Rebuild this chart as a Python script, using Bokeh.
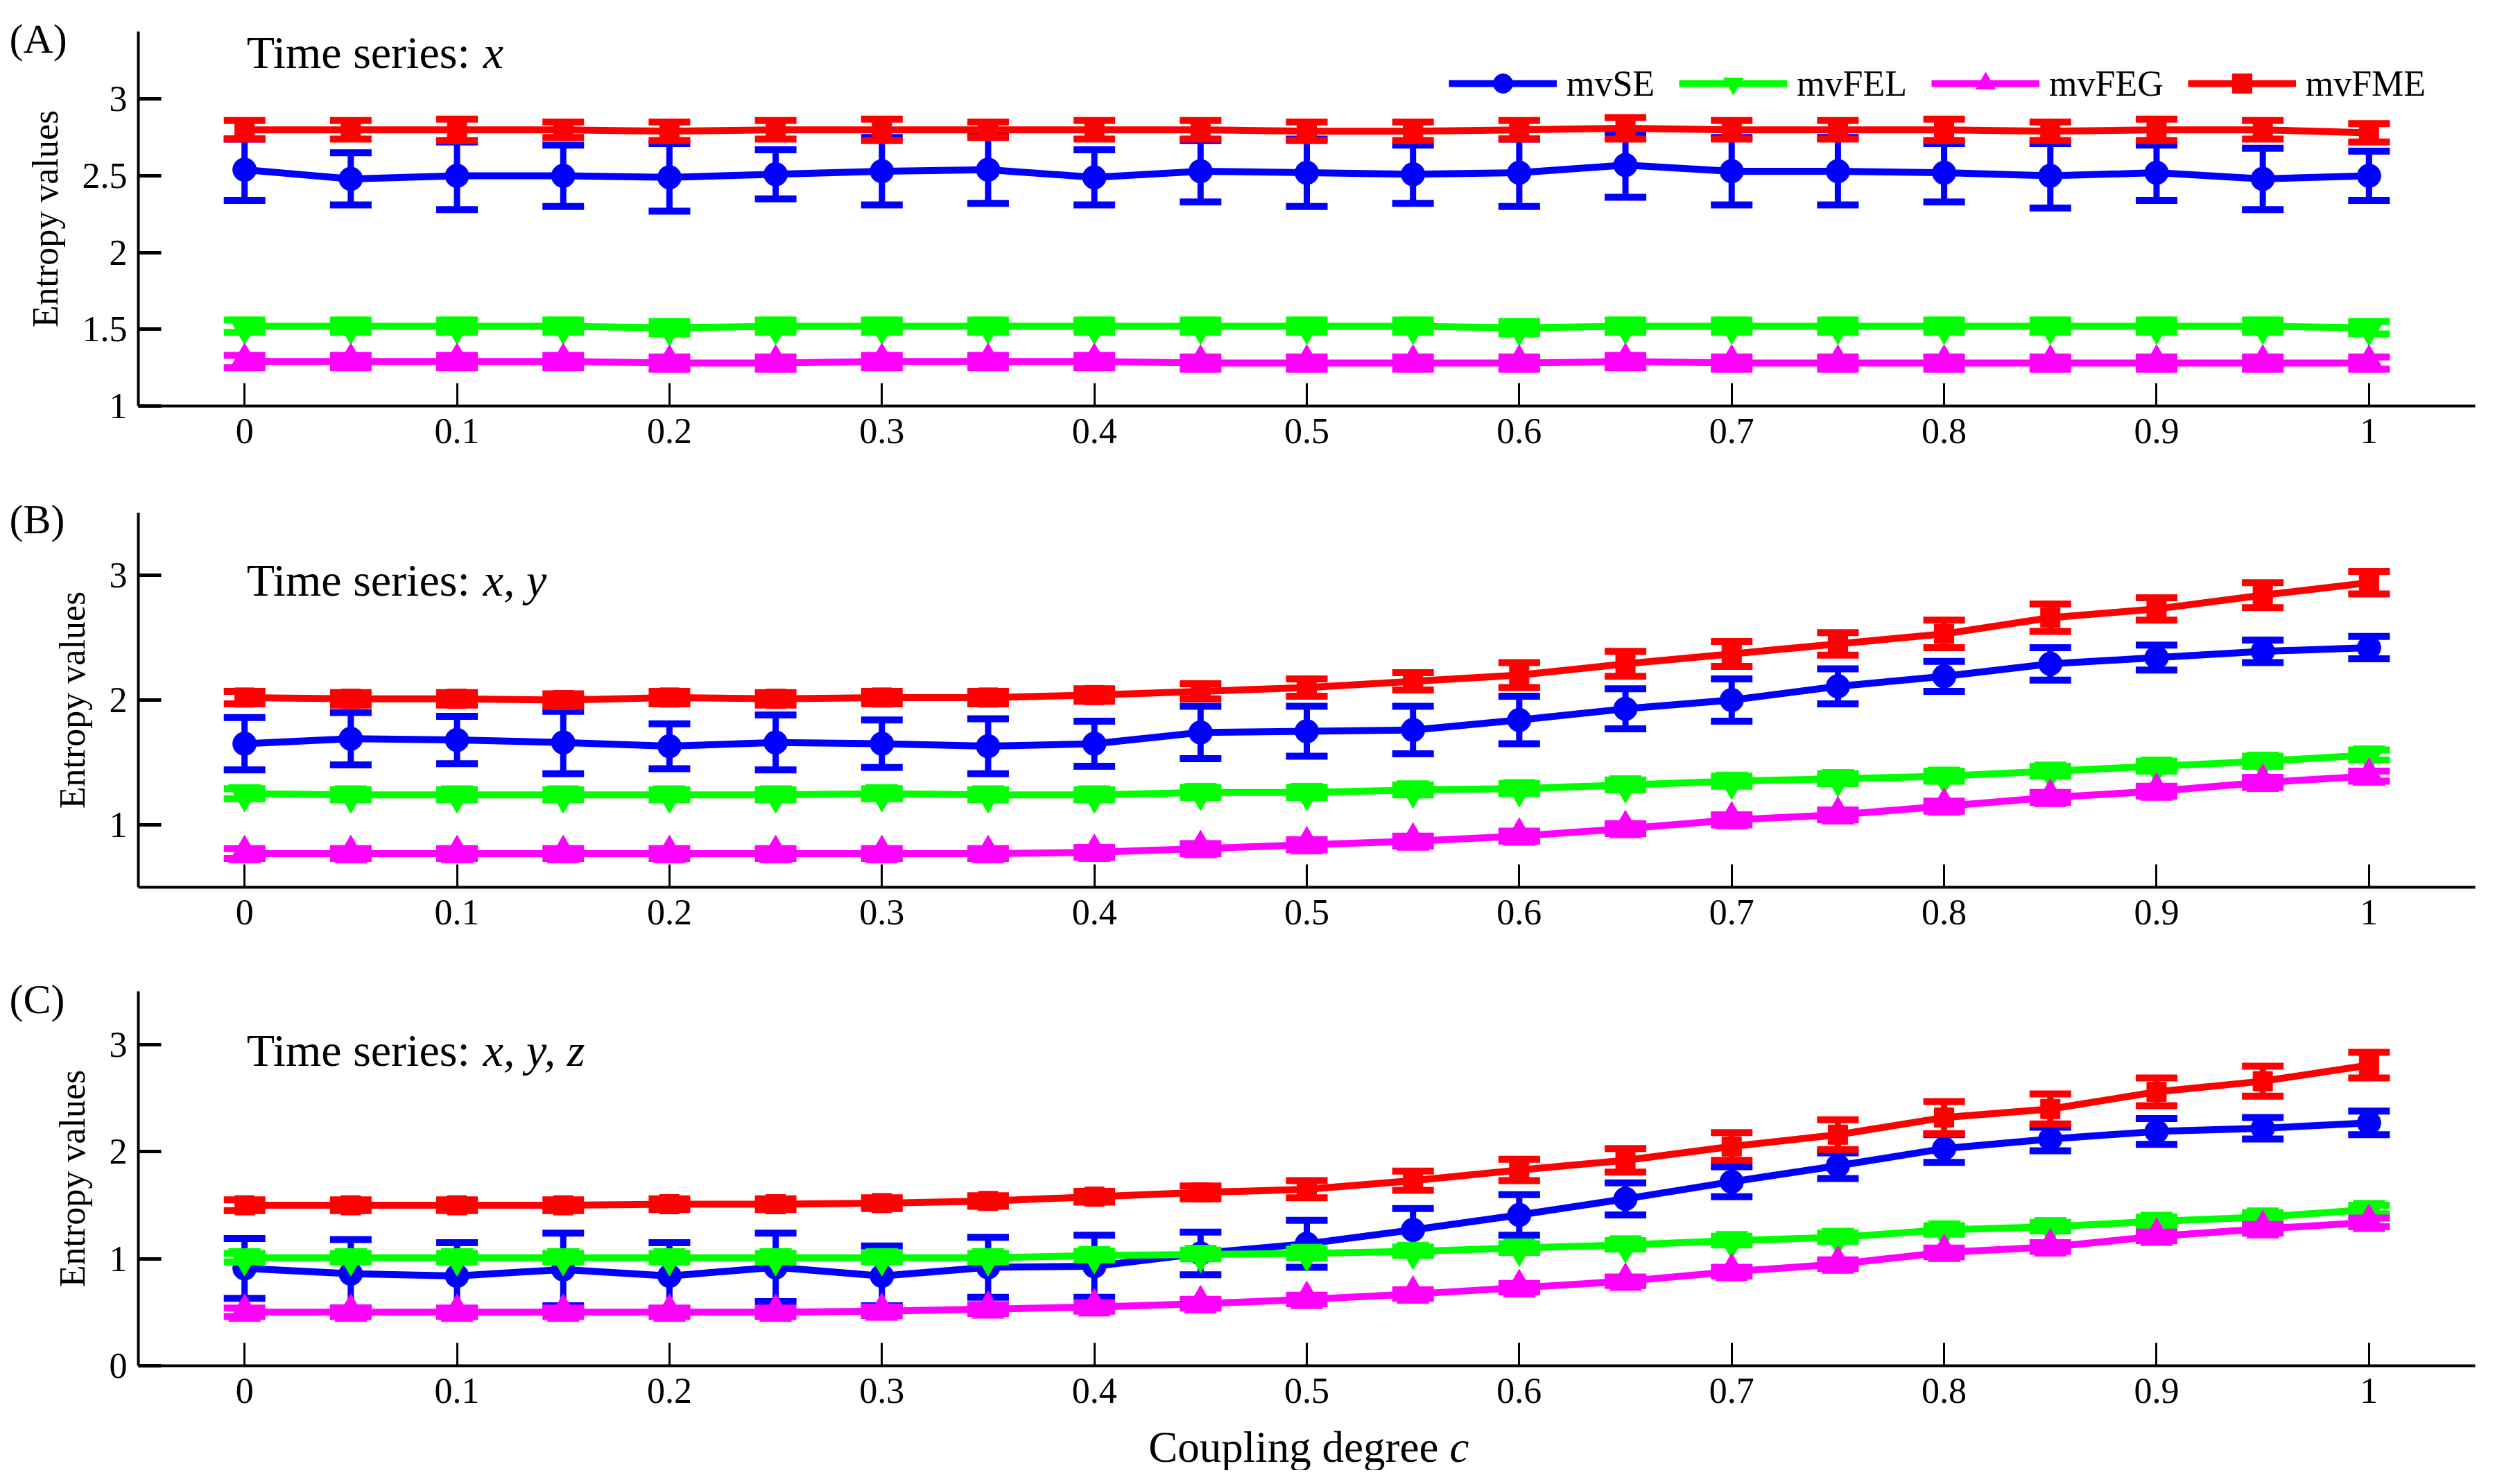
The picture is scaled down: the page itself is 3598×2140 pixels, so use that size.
import numpy as np
from bokeh.plotting import figure
from bokeh.layouts import column
from bokeh.models import (Range1d, FixedTicker, PrintfTickFormatter, Label,
                          Legend, LegendItem)
from bokeh.embed import file_html
from bokeh.resources import INLINE

# coupling degree c
coupling = [0, 0.05, 0.1, 0.15, 0.2, 0.25, 0.3, 0.35, 0.4, 0.45, 0.5,
            0.55, 0.6, 0.65, 0.7, 0.75, 0.8, 0.85, 0.9, 0.95, 1.0]
x_ticks = [0, 0.1, 0.2, 0.3, 0.4, 0.5, 0.6, 0.7, 0.8, 0.9, 1.0]

series_names = ["mvSE", "mvFEL", "mvFEG", "mvFME"]

# (A) time series x
a_se = [2.54, 2.48, 2.50, 2.50, 2.49, 2.51, 2.53, 2.54, 2.49, 2.53, 2.52,
        2.51, 2.52, 2.57, 2.53, 2.53, 2.52, 2.50, 2.52, 2.48, 2.50]
a_se_err = [0.20, 0.17, 0.22, 0.20, 0.22, 0.16, 0.22, 0.22, 0.18, 0.20, 0.22,
            0.19, 0.22, 0.21, 0.22, 0.22, 0.19, 0.21, 0.18, 0.20, 0.16]
a_fel = [1.52, 1.52, 1.52, 1.52, 1.51, 1.52, 1.52, 1.52, 1.52, 1.52, 1.52,
         1.52, 1.51, 1.52, 1.52, 1.52, 1.52, 1.52, 1.52, 1.52, 1.51]
a_fel_err = [0.04, 0.04, 0.04, 0.04, 0.04, 0.04, 0.04, 0.04, 0.04, 0.04, 0.04,
             0.04, 0.04, 0.04, 0.04, 0.04, 0.04, 0.04, 0.04, 0.04, 0.04]
a_feg = [1.29, 1.29, 1.29, 1.29, 1.28, 1.28, 1.29, 1.29, 1.29, 1.28, 1.28,
         1.28, 1.28, 1.29, 1.28, 1.28, 1.28, 1.28, 1.28, 1.28, 1.28]
a_feg_err = [0.04, 0.04, 0.04, 0.04, 0.04, 0.04, 0.04, 0.04, 0.04, 0.04, 0.04,
             0.04, 0.04, 0.04, 0.04, 0.04, 0.04, 0.04, 0.04, 0.04, 0.04]
a_fme = [2.80, 2.80, 2.80, 2.80, 2.79, 2.80, 2.80, 2.80, 2.80, 2.80, 2.79,
         2.79, 2.80, 2.81, 2.80, 2.80, 2.80, 2.79, 2.80, 2.80, 2.78]
a_fme_err = [0.06, 0.06, 0.07, 0.05, 0.06, 0.06, 0.07, 0.05, 0.06, 0.06, 0.06,
             0.06, 0.06, 0.07, 0.06, 0.06, 0.07, 0.06, 0.07, 0.06, 0.06]

# (B) time series x, y
b_se = [1.65, 1.69, 1.68, 1.66, 1.63, 1.66, 1.65, 1.63, 1.65, 1.74, 1.75,
        1.76, 1.84, 1.93, 2.00, 2.11, 2.19, 2.29, 2.34, 2.39, 2.42]
b_se_err = [0.21, 0.21, 0.19, 0.25, 0.18, 0.22, 0.19, 0.22, 0.18, 0.21, 0.20,
            0.19, 0.19, 0.16, 0.17, 0.14, 0.12, 0.13, 0.10, 0.09, 0.09]
b_fel = [1.25, 1.24, 1.24, 1.24, 1.24, 1.24, 1.25, 1.24, 1.24, 1.26, 1.26,
         1.28, 1.29, 1.32, 1.35, 1.37, 1.39, 1.43, 1.47, 1.51, 1.56]
b_fel_err = [0.04, 0.04, 0.04, 0.04, 0.04, 0.04, 0.04, 0.04, 0.04, 0.04, 0.04,
             0.04, 0.04, 0.04, 0.04, 0.04, 0.04, 0.04, 0.04, 0.04, 0.04]
b_feg = [0.77, 0.77, 0.77, 0.77, 0.77, 0.77, 0.77, 0.77, 0.78, 0.81, 0.84,
         0.87, 0.91, 0.97, 1.04, 1.08, 1.15, 1.22, 1.27, 1.34, 1.39]
b_feg_err = [0.04, 0.04, 0.04, 0.04, 0.04, 0.04, 0.04, 0.04, 0.04, 0.04, 0.04,
             0.04, 0.04, 0.04, 0.04, 0.04, 0.04, 0.04, 0.04, 0.04, 0.04]
b_fme = [2.02, 2.01, 2.01, 2.00, 2.02, 2.01, 2.02, 2.02, 2.04, 2.07, 2.10,
         2.15, 2.20, 2.29, 2.37, 2.45, 2.53, 2.66, 2.73, 2.84, 2.94]
b_fme_err = [0.05, 0.05, 0.05, 0.05, 0.05, 0.05, 0.05, 0.05, 0.05, 0.06, 0.07,
             0.07, 0.10, 0.10, 0.10, 0.09, 0.11, 0.11, 0.09, 0.10, 0.09]

# (C) time series x, y, z
c_se = [0.91, 0.86, 0.84, 0.90, 0.84, 0.92, 0.84, 0.92, 0.93, 1.05, 1.14,
        1.27, 1.41, 1.56, 1.72, 1.87, 2.03, 2.12, 2.19, 2.22, 2.27]
c_se_err = [0.28, 0.32, 0.31, 0.34, 0.31, 0.32, 0.28, 0.28, 0.29, 0.20, 0.22,
            0.20, 0.19, 0.15, 0.14, 0.12, 0.13, 0.11, 0.12, 0.10, 0.11]
c_fel = [1.01, 1.01, 1.01, 1.01, 1.01, 1.01, 1.01, 1.01, 1.03, 1.04, 1.05,
         1.07, 1.10, 1.13, 1.17, 1.20, 1.27, 1.30, 1.35, 1.39, 1.46]
c_fel_err = [0.04, 0.04, 0.04, 0.04, 0.04, 0.04, 0.04, 0.04, 0.04, 0.04, 0.04,
             0.04, 0.04, 0.04, 0.04, 0.04, 0.04, 0.04, 0.04, 0.04, 0.04]
c_feg = [0.50, 0.50, 0.50, 0.50, 0.50, 0.50, 0.51, 0.53, 0.55, 0.58, 0.62,
         0.67, 0.73, 0.79, 0.88, 0.95, 1.06, 1.11, 1.21, 1.28, 1.34]
c_feg_err = [0.04, 0.04, 0.04, 0.04, 0.04, 0.04, 0.04, 0.04, 0.04, 0.04, 0.04,
             0.04, 0.04, 0.04, 0.04, 0.04, 0.04, 0.04, 0.04, 0.04, 0.04]
c_fme = [1.50, 1.50, 1.50, 1.50, 1.51, 1.51, 1.52, 1.54, 1.58, 1.62, 1.65,
         1.73, 1.83, 1.92, 2.05, 2.16, 2.32, 2.40, 2.56, 2.66, 2.81]
c_fme_err = [0.05, 0.05, 0.05, 0.05, 0.05, 0.05, 0.05, 0.05, 0.05, 0.06, 0.08,
             0.09, 0.10, 0.11, 0.13, 0.14, 0.15, 0.14, 0.13, 0.14, 0.12]

FONT = "Liberation Serif"
styles = {
    "mvSE": dict(color="#0000ff", marker="circle", size=34),
    "mvFEL": dict(color="#00ff00", marker="inverted_triangle", size=46),
    "mvFEG": dict(color="#ff00ff", marker="triangle", size=46),
    "mvFME": dict(color="#ff0000", marker="square", size=28),
}

W = 3580
BOX_LEFT, BOX_RIGHT = 199, 11      # px around the axes box
BOX_H = 540
X_LIM = (-0.05, 1.05)


def make_panel(tag, series, y_lim, y_ticks, italic_part, height, top,
               tag_y, title_y, legend=False, xlabel=False):
    # the frame fills the whole canvas; axes sit at fixed locations so that
    # texts outside the axes box are not clipped
    bottom = height - top - BOX_H
    kx = (X_LIM[1] - X_LIM[0]) / (W - BOX_LEFT - BOX_RIGHT)
    ky = (y_lim[1] - y_lim[0]) / BOX_H
    p = figure(width=W, height=height,
               x_range=Range1d(X_LIM[0] - BOX_LEFT * kx, X_LIM[1] + BOX_RIGHT * kx),
               y_range=Range1d(y_lim[0] - bottom * ky, y_lim[1] + top * ky),
               output_backend="svg", toolbar_location=None, min_border=0)
    p.outline_line_color = None
    p.grid.visible = False
    p.background_fill_color = "white"

    p.xaxis.fixed_location = y_lim[0]
    p.xaxis.bounds = X_LIM
    p.yaxis.fixed_location = X_LIM[0]
    p.yaxis.bounds = y_lim
    p.xaxis.ticker = FixedTicker(ticks=x_ticks)
    p.yaxis.ticker = FixedTicker(ticks=y_ticks)
    p.xaxis.formatter = PrintfTickFormatter(format="%g")
    p.yaxis.formatter = PrintfTickFormatter(format="%g")
    for ax in (p.xaxis, p.yaxis):
        ax.axis_line_width = 4
        ax.axis_line_color = "black"
        ax.major_tick_line_color = "black"
        ax.major_tick_in = 33
        ax.major_tick_out = 0
        ax.minor_tick_line_color = None
        ax.major_label_text_font = FONT
        ax.major_label_text_font_size = "52px"
        ax.major_label_text_color = "black"
    p.xaxis.major_tick_line_width = 3
    p.yaxis.major_tick_line_width = 5
    p.xaxis.major_label_standoff = 18
    p.yaxis.major_label_standoff = 16
    p.yaxis.axis_label = "Entropy values"
    p.yaxis.axis_label_text_font = FONT
    p.yaxis.axis_label_text_font_style = "normal"
    p.yaxis.axis_label_text_font_size = "52px"
    p.yaxis.axis_label_text_color = "black"
    p.yaxis.axis_label_standoff = 22

    items = []
    for name, (mean, err) in zip(series_names, series):
        st = styles[name]
        mean = np.array(mean)
        err = np.array(err)
        lo, hi = mean - err, mean + err
        p.segment(x0=coupling, y0=lo, x1=coupling, y1=hi,
                  line_color=st["color"], line_width=9)
        p.scatter(x=coupling + coupling, y=np.concatenate([lo, hi]),
                  marker="dash", size=60, line_width=10,
                  line_color=st["color"])
        lr = p.line(coupling, mean, line_color=st["color"], line_width=10)
        mr = p.scatter(coupling, mean, marker=st["marker"], size=st["size"],
                       fill_color=st["color"], line_color=st["color"])
        items.append(LegendItem(label=name, renderers=[lr, mr]))

    p.add_layout(Label(x=13, y=tag_y, x_units="screen", y_units="screen",
                       text=tag, text_font=FONT, text_font_size="60px",
                       text_color="black", text_baseline="alphabetic"))
    p.add_layout(Label(x=0, y=title_y, y_units="screen", x_offset=3,
                       text="Time series: ", text_font=FONT,
                       text_font_size="66px", text_color="black",
                       text_baseline="alphabetic"))
    p.add_layout(Label(x=0, y=title_y, y_units="screen", x_offset=344,
                       text=italic_part, text_font=FONT,
                       text_font_style="italic", text_font_size="66px",
                       text_color="black", text_baseline="alphabetic"))

    if legend:
        lg = Legend(items=items, orientation="horizontal",
                    location=(2089, height - top - 110), glyph_width=156,
                    glyph_height=70, label_height=70, label_standoff=14,
                    spacing=35, padding=0, margin=0, border_line_color=None,
                    background_fill_alpha=0, label_text_font=FONT,
                    label_text_font_size="52px", label_text_color="black")
        p.add_layout(lg, "center")

    if xlabel:
        p.add_layout(Label(x=0.562, y=34, y_units="screen",
                           text="Coupling degree", text_font=FONT,
                           text_font_size="63px", text_align="right",
                           text_color="black", text_baseline="alphabetic"))
        p.add_layout(Label(x=0.562, y=34, y_units="screen", x_offset=16,
                           text="c", text_font=FONT, text_font_style="italic",
                           text_font_size="63px", text_align="left",
                           text_color="black", text_baseline="alphabetic"))
    return p


pa = make_panel("(A)", [(a_se, a_se_err), (a_fel, a_fel_err),
                        (a_feg, a_feg_err), (a_fme, a_fme_err)],
                (1, 3.44), [1, 1.5, 2, 2.5, 3], "x", 700, 45, 645, 625,
                legend=True)
pb = make_panel("(B)", [(b_se, b_se_err), (b_fel, b_fel_err),
                        (b_feg, b_feg_err), (b_fme, b_fme_err)],
                (0.5, 3.5), [1, 2, 3], "x, y", 690, 39, 642, 554)
pc = make_panel("(C)", [(c_se, c_se_err), (c_fel, c_fel_err),
                        (c_feg, c_feg_err), (c_fme, c_fme_err)],
                (0, 3.5), [0, 1, 2, 3], "x, y, z", 730, 39, 680, 606,
                xlabel=True)

layout = column(pa, pb, pc)
open("out.html", "w").write(file_html(layout, INLINE))
